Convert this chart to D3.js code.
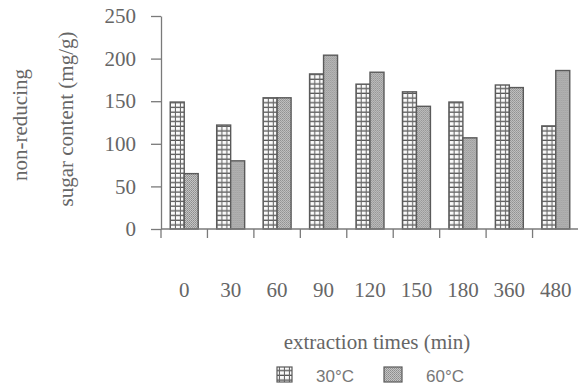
<!DOCTYPE html>
<html>
<head>
<meta charset="utf-8">
<script src="https://cdn.jsdelivr.net/npm/d3@7"></script>
<style>
  html, body { margin: 0; padding: 0; background: #ffffff; }
  svg { display: block; }
</style>
</head>
<body>
<svg id="chart" width="578" height="389"></svg>
<script>
// Extraction times (min) and non-reducing sugar content (mg/g) at two temperatures
const categories = ["0", "30", "60", "90", "120", "150", "180", "360", "480"];
const series30 = [149, 122, 154, 182, 170, 161, 149, 169, 121];
const series60 = [65, 80, 154, 204, 184, 144, 107, 166, 186];
const seriesNames = ["30°C", "60°C"];
const yTicks = [0, 50, 100, 150, 200, 250];

(function () {
const W = 578;
const plotLeft = 161, plotRight = 579, plotTop = 16, plotBottom = 229;
const ink = "#666";
const axisInk = "#7a7a7a";
const serif = "'Liberation Serif', 'Times New Roman', serif";
const sans = "'Liberation Sans', Arial, sans-serif";

const svg = d3.select("#chart");

// Fill patterns: open grid for 30°C, fine stipple for 60°C
const defs = svg.append("defs");
const grid = defs.append("pattern")
  .attr("id", "pat30").attr("patternUnits", "userSpaceOnUse")
  .attr("width", 5).attr("height", 4.7);
grid.append("rect").attr("width", 5).attr("height", 4.7).attr("fill", "#fbfbfb");
grid.append("rect").attr("x", 0).attr("y", 3.4).attr("width", 5).attr("height", 1.3).attr("fill", "#555");
grid.append("rect").attr("x", 3.9).attr("y", 0).attr("width", 1.1).attr("height", 4.7).attr("fill", "#6a6a6a");

const stip = defs.append("pattern")
  .attr("id", "pat60").attr("patternUnits", "userSpaceOnUse")
  .attr("width", 2).attr("height", 2);
stip.append("rect").attr("width", 2).attr("height", 2).attr("fill", "#c4c4c4");
stip.append("rect").attr("width", 1).attr("height", 1).attr("fill", "#8c8c8c");
stip.append("rect").attr("x", 1).attr("y", 1).attr("width", 1).attr("height", 1).attr("fill", "#9a9a9a");

const x = d3.scaleBand().domain(categories).range([plotLeft, plotRight]).paddingInner(0).paddingOuter(0);
const xs = d3.scaleBand().domain(seriesNames).range([0, x.bandwidth()]).paddingInner(0).paddingOuter(0.66);
const y = d3.scaleLinear().domain([0, 250]).range([plotBottom, plotTop]);

// Bars
const rows = categories.map((c, i) => ({ cat: c, values: [series30[i], series60[i]] }));
const groups = svg.append("g").selectAll("g").data(rows).join("g")
  .attr("transform", d => `translate(${x(d.cat)},0)`);
groups.selectAll("rect")
  .data(d => d.values.map((v, j) => ({ name: seriesNames[j], v, j })))
  .join("rect")
  .attr("x", d => xs(d.name))
  .attr("y", d => y(d.v))
  .attr("width", xs.bandwidth())
  .attr("height", d => y(0) - y(d.v))
  .attr("fill", d => d.j === 0 ? "url(#pat30)" : "url(#pat60)")
  .attr("stroke", "#5a5a5a")
  .attr("stroke-width", 1.4);

// Y axis
const yAxis = svg.append("g").attr("transform", `translate(${plotLeft},0)`)
  .call(d3.axisLeft(y).tickValues(yTicks).tickSize(10).tickPadding(15).tickSizeOuter(0));
yAxis.select(".domain").attr("stroke", axisInk).attr("stroke-width", 1.3);
yAxis.selectAll(".tick line").attr("stroke", axisInk).attr("stroke-width", 1.3);
yAxis.selectAll(".tick text").attr("fill", ink).attr("font-family", serif).attr("font-size", 21);

// X axis: line with ticks at band boundaries, labels at band centres
const bounds = categories.map(c => x(c));
svg.append("line").attr("x1", plotLeft).attr("x2", W).attr("y1", plotBottom).attr("y2", plotBottom)
  .attr("stroke", axisInk).attr("stroke-width", 1.3);
svg.append("g").selectAll("line").data(bounds).join("line")
  .attr("x1", d => d).attr("x2", d => d)
  .attr("y1", plotBottom).attr("y2", plotBottom + 9)
  .attr("stroke", axisInk).attr("stroke-width", 1.3);

const xAxis = svg.append("g").attr("transform", `translate(0,${plotBottom})`)
  .call(d3.axisBottom(x).tickSize(0).tickPadding(53));
xAxis.select(".domain").remove();
xAxis.selectAll(".tick text").attr("fill", ink).attr("font-family", serif).attr("font-size", 21);

// Axis titles
svg.append("text").attr("x", 377).attr("y", 349).attr("text-anchor", "middle")
  .attr("fill", ink).attr("font-family", serif).attr("font-size", 21)
  .text("extraction times (min)");
svg.append("text").attr("transform", "translate(27,125) rotate(-90)").attr("text-anchor", "middle")
  .attr("fill", ink).attr("font-family", serif).attr("font-size", 21)
  .text("non-reducing");
svg.append("text").attr("transform", "translate(73,119) rotate(-90)").attr("text-anchor", "middle")
  .attr("fill", ink).attr("font-family", serif).attr("font-size", 21)
  .text("sugar content (mg/g)");

// Legend
const legendItems = [
  { name: seriesNames[0], fill: "url(#pat30)", bx: 277, bw: 15, tx: 316 },
  { name: seriesNames[1], fill: "url(#pat60)", bx: 384, bw: 18, tx: 426 }
];
const lg = svg.append("g").selectAll("g").data(legendItems).join("g");
lg.append("rect").attr("x", d => d.bx).attr("y", 367).attr("width", d => d.bw).attr("height", 15)
  .attr("fill", d => d.fill).attr("stroke", "#5a5a5a").attr("stroke-width", 1.2);
lg.append("text").attr("x", d => d.tx).attr("y", 382)
  .attr("fill", "#777").attr("font-family", sans).attr("font-size", 17)
  .text(d => d.name);
})();
</script>
</body>
</html>
